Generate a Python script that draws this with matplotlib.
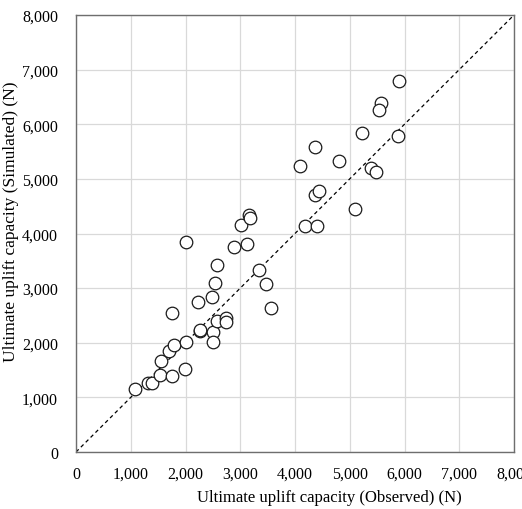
import numpy as np
import matplotlib.pyplot as plt
from matplotlib.ticker import FuncFormatter

# observed vs simulated ultimate uplift capacity (N)
observed = [1072, 1321, 1394, 1528, 1759, 1991, 1553, 1699, 1790, 2009,
            1747, 2234, 2490, 2539, 2569, 2003, 2259, 2270, 2497, 2497,
            2575, 2740, 2745, 2880, 3117, 3014, 3166, 3172, 3337, 3470,
            3556, 4085, 4361, 4810, 4371, 4444, 4188, 4396, 5090, 5394,
            5480, 5218, 5881, 5565, 5540, 5900]
simulated = [1148, 1266, 1269, 1410, 1386, 1528, 1672, 1846, 1965, 2008,
             2550, 2755, 2843, 3088, 3429, 3850, 2215, 2233, 2202, 2008,
             2395, 2447, 2377, 3758, 3813, 4161, 4332, 4284, 3337, 3081,
             2636, 5241, 5589, 5332, 4710, 4770, 4131, 4131, 4445, 5199,
             5120, 5840, 5790, 6383, 6267, 6792]
ticks = [0, 1000, 2000, 3000, 4000, 5000, 6000, 7000, 8000]

plt.rcParams['font.family'] = ['Liberation Serif', 'DejaVu Serif']

fig = plt.figure(figsize=(5.22, 5.10), dpi=100)
ax = fig.add_axes([76 / 522, 57 / 510, 438 / 522, 437 / 510])

ax.plot([0, 8000], [0, 8000], color="black", linestyle=(0, (3, 2.5)),
        linewidth=0.9, zorder=2)
ax.scatter(observed, simulated, s=82, facecolors="white",
           edgecolors="#1a1a1a", linewidths=0.9, zorder=3)

ax.set_xlim(0, 8000)
ax.set_ylim(0, 8000)
ax.set_xticks(ticks)
ax.set_yticks(ticks)
fmt = FuncFormatter(lambda v, p: f"{int(v):,}")
ax.xaxis.set_major_formatter(fmt)
ax.yaxis.set_major_formatter(fmt)
ax.tick_params(axis="x", length=0, pad=10, labelsize=11.5)
ax.tick_params(axis="y", length=0, pad=13, labelsize=11.5)

ax.grid(True, color="#d9d9d9", linewidth=0.9, zorder=0)
ax.set_axisbelow(True)
for sp in ax.spines.values():
    sp.set_color("#6e6e6e")
    sp.set_linewidth(1.0)

ax.set_xlabel("Ultimate uplift capacity (Observed) (N)", fontsize=12, labelpad=5)
ax.set_ylabel("Ultimate uplift capacity (Simulated) (N)", fontsize=12.5, labelpad=2)
ax.xaxis.label.set_x(0.578)
ax.yaxis.label.set_y(0.53)

fig.savefig("out.png", dpi=100)
